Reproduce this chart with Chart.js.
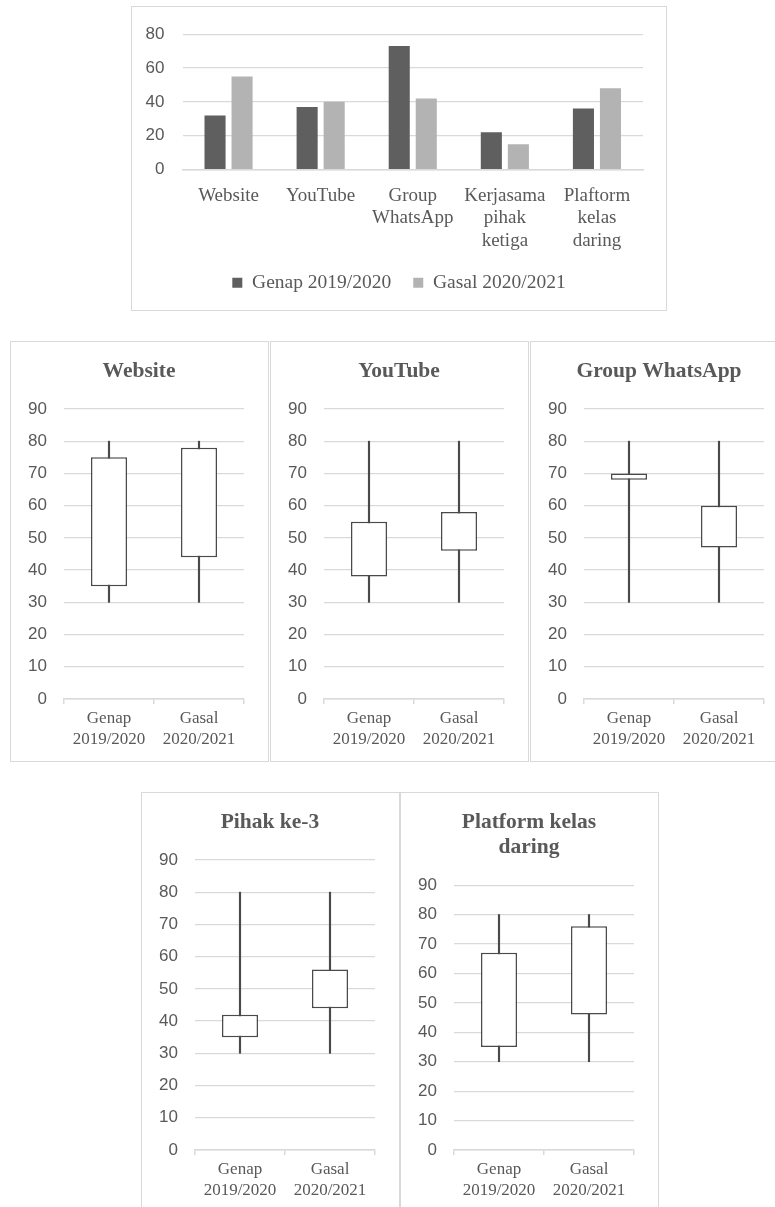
<!DOCTYPE html>
<html>
<head>
<meta charset="utf-8">
<script src="https://cdn.jsdelivr.net/npm/chart.js@4.4.1/dist/chart.umd.min.js"></script>
<style>
  body { margin: 0; background: #fff; width: 775px; height: 1207px; overflow: hidden; position: relative; }
  .frame { position: absolute; border: 1.5px solid #d9d9d9; box-sizing: border-box; }
  canvas { position: absolute; }
</style>
</head>
<body>
<div class="frame" style="left:131px;top:6px;width:536px;height:305px"></div>
<canvas id="barChart" width="536" height="305" style="left:131px;top:6px"></canvas>

<div class="frame" style="left:10px;top:341px;width:259px;height:421px"></div>
<canvas id="boxWebsite" width="258" height="421" style="left:10px;top:341px"></canvas>
<div class="frame" style="left:270px;top:341px;width:259px;height:421px"></div>
<canvas id="boxYoutube" width="258" height="421" style="left:270px;top:341px"></canvas>
<div class="frame" style="left:530px;top:341px;width:259px;height:421px"></div>
<canvas id="boxWhatsapp" width="258" height="421" style="left:530px;top:341px"></canvas>

<div class="frame" style="left:141px;top:792px;width:259px;height:421px"></div>
<canvas id="boxPihak" width="258" height="421" style="left:141px;top:792px"></canvas>
<div class="frame" style="left:400px;top:792px;width:259px;height:421px"></div>
<canvas id="boxPlatform" width="258" height="421" style="left:400px;top:792px"></canvas>

<script>
// top chart data
const barCategories = [['Website'], ['YouTube'], ['Group', 'WhatsApp'], ['Kerjasama', 'pihak', 'ketiga'], ['Plaftorm', 'kelas', 'daring']];
const genapValues = [32, 37, 73, 22, 36];
const gasalValues = [55, 40, 42, 15, 48];

// box plots: [min, q1, q3, max]
const boxCategories = [['Genap', '2019/2020'], ['Gasal', '2020/2021']];
const websiteGenap = [30, 35, 75, 80];
const websiteGasal = [30, 44, 78, 80];
const youtubeGenap = [30, 38, 55, 80];
const youtubeGasal = [30, 46, 58, 80];
const whatsappGenap = [30, 68, 70, 80];
const whatsappGasal = [30, 47, 60, 80];
const pihakGenap = [30, 35, 42, 80];
const pihakGasal = [30, 44, 56, 80];
const platformGenap = [30, 35, 67, 80];
const platformGasal = [30, 46, 76, 80];
const boxTicks = [0, 10, 20, 30, 40, 50, 60, 70, 80, 90];

const textGray = '#595959';
const gridGray = '#d9d9d9';
const lineGray = '#4a4a4a';
const serif = 'Liberation Serif';
const sans = 'Liberation Sans';

// empty axis on the right, only keeps space so legend/title stay centred in the frame
function spacerAxis(w) {
    return {
        type: 'linear',
        position: 'right',
        grid: { display: false, drawOnChartArea: false },
        border: { display: false },
        ticks: { display: false },
        afterFit: (scale) => { scale.width = w; }
    };
}

new Chart(document.getElementById('barChart'), {
    type: 'bar',
    data: {
        labels: barCategories,
        datasets: [{
            label: 'Genap 2019/2020',
            data: genapValues,
            backgroundColor: '#5f5f5f',
            categoryPercentage: 0.587,
            barPercentage: 0.78
        },
        {
            label: 'Gasal 2020/2021',
            data: gasalValues,
            backgroundColor: '#b3b3b3',
            categoryPercentage: 0.587,
            barPercentage: 0.78
        }]
    },
    options: {
        responsive: false,
        animation: false,
        layout: { padding: { top: 23.7, right: 0, bottom: 8.5, left: 0 } },
        plugins: {
            legend: {
                position: 'bottom',
                labels: { boxWidth: 10, boxHeight: 10, padding: 22, color: textGray, font: { family: serif, size: 19.5 } }
            },
            tooltip: { enabled: false }
        },
        scales: {
            x: {
                grid: { display: false },
                border: { color: gridGray, width: 1.5 },
                ticks: { color: textGray, font: { family: serif, size: 19, lineHeight: 1.184 }, padding: 7, maxRotation: 0, autoSkip: false },
                afterFit: (scale) => { scale.height = 81.5; }
            },
            y: {
                min: 0,
                max: 80,
                ticks: { stepSize: 20, color: textGray, font: { family: sans, size: 17 }, padding: 18 },
                grid: { color: gridGray, lineWidth: 1.2, drawTicks: false },
                border: { display: false },
                afterFit: (scale) => { scale.width = 51.5; }
            },
            yRight: spacerAxis(24)
        }
    }
});

function makeBox(id, title, genap, gasal) {
    const rows = [genap, gasal];
    new Chart(document.getElementById(id), {
        type: 'bar',
        data: {
            labels: boxCategories,
            datasets: [{
                // box q1..q3
                data: rows.map(r => [r[1], r[2]]),
                backgroundColor: '#ffffff',
                borderColor: lineGray,
                borderWidth: 1.5,
                borderSkipped: false,
                grouped: false,
                categoryPercentage: 1,
                barPercentage: 0.4
            },
            {
                // whisker min..max
                data: rows.map(r => [r[0], r[3]]),
                backgroundColor: lineGray,
                borderWidth: 0,
                grouped: false,
                barThickness: 1.5
            }]
        },
        options: {
            responsive: false,
            animation: false,
            layout: { padding: 0 },
            plugins: {
                legend: { display: false },
                tooltip: { enabled: false },
                title: {
                    display: true,
                    text: title,
                    color: textGray,
                    font: { family: serif, size: 21.5, weight: 'bold', lineHeight: 1.17 },
                    padding: { top: 17.4, bottom: 25.4 }
                }
            },
            scales: {
                x: {
                    grid: { offset: true, drawOnChartArea: false, tickLength: 5, color: gridGray, lineWidth: 1.5 },
                    border: { color: gridGray, width: 1.5 },
                    ticks: { color: textGray, font: { family: serif, size: 17, lineHeight: 1.18 }, padding: 5, maxRotation: 0, autoSkip: false },
                    afterFit: (scale) => { scale.height = 63; }
                },
                y: {
                    min: 0,
                    max: 90,
                    afterBuildTicks: (scale) => { scale.ticks = boxTicks.map(v => ({ value: v })); },
                    ticks: { color: textGray, font: { family: sans, size: 17 }, padding: 17 },
                    grid: { color: gridGray, lineWidth: 1.2, drawTicks: false },
                    border: { display: false },
                    afterFit: (scale) => { scale.width = 54; }
                },
                yRight: spacerAxis(24)
            }
        }
    });
}

makeBox('boxWebsite', 'Website', websiteGenap, websiteGasal);
makeBox('boxYoutube', 'YouTube', youtubeGenap, youtubeGasal);
makeBox('boxWhatsapp', 'Group WhatsApp', whatsappGenap, whatsappGasal);
makeBox('boxPihak', 'Pihak ke-3', pihakGenap, pihakGasal);
makeBox('boxPlatform', ['Platform kelas', 'daring'], platformGenap, platformGasal);
</script>
</body>
</html>
